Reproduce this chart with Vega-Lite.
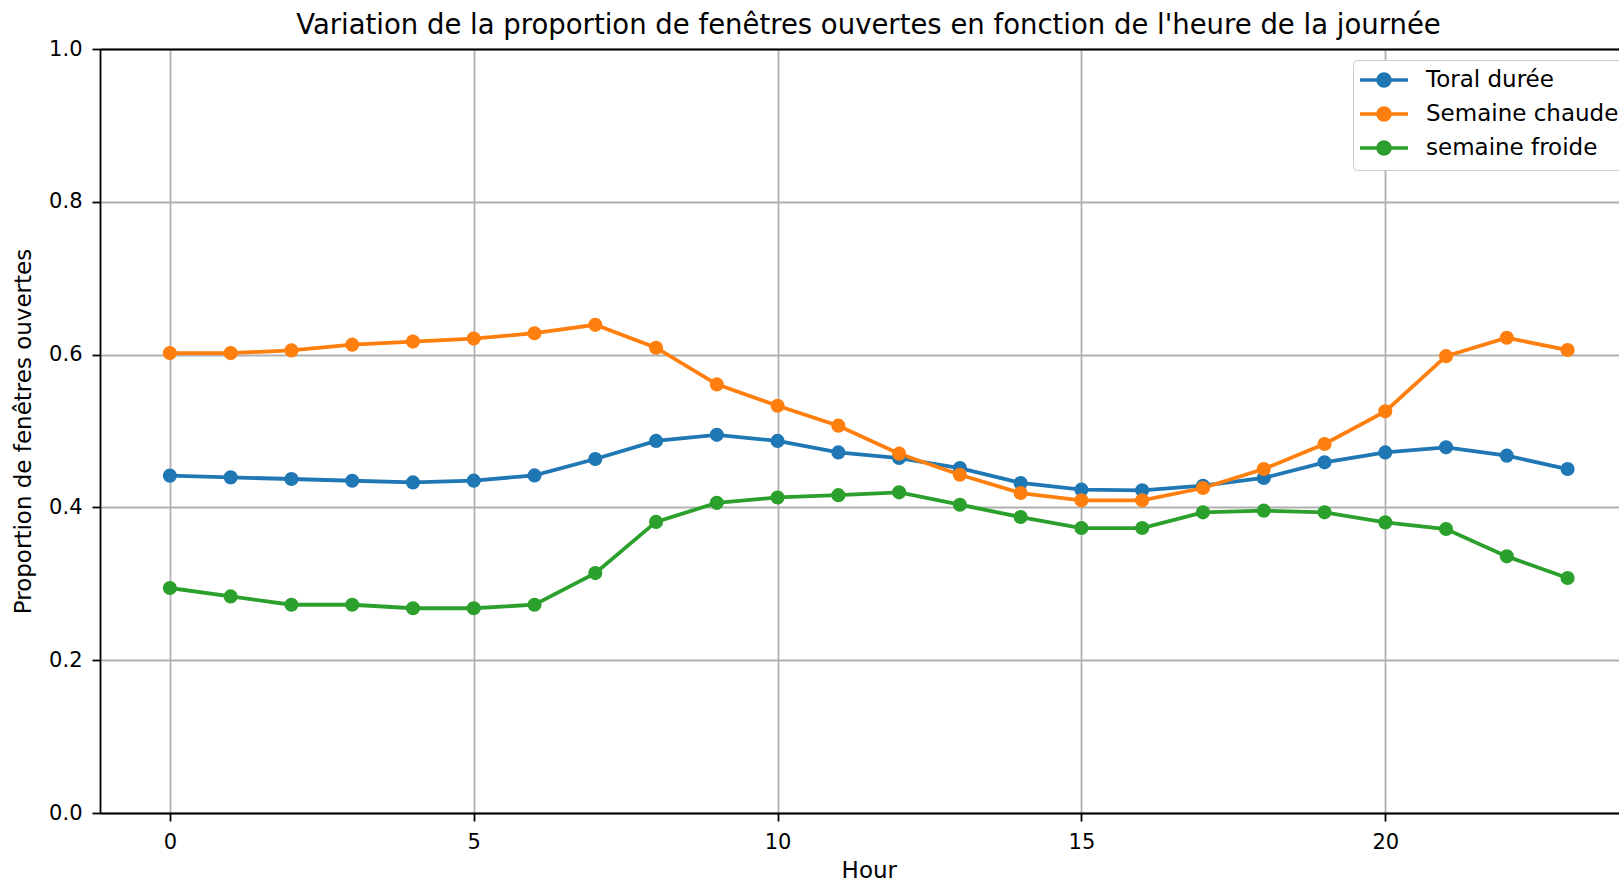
{
  "$schema": "https://vega.github.io/schema/vega-lite/v6.json",
  "autosize": {"type": "none"},
  "padding": {"left": 100, "top": 49, "right": 0, "bottom": 70},
  "width": 1519,
  "height": 764,
  "background": "white",
  "title": {
    "text": "Variation de la proportion de fenêtres ouvertes en fonction de l'heure de la journée",
    "font": "DejaVu Sans",
    "fontSize": 27.5,
    "fontWeight": "normal",
    "color": "black",
    "anchor": "middle",
    "baseline": "alphabetic",
    "offset": 14,
    "dx": 9,
    "dy": 37
  },
  "data": {
    "values": [
      {"hour": 0, "serie": "Toral durée", "p": 0.4415},
      {"hour": 1, "serie": "Toral durée", "p": 0.4393},
      {"hour": 2, "serie": "Toral durée", "p": 0.4372},
      {"hour": 3, "serie": "Toral durée", "p": 0.4349},
      {"hour": 4, "serie": "Toral durée", "p": 0.4327},
      {"hour": 5, "serie": "Toral durée", "p": 0.435},
      {"hour": 6, "serie": "Toral durée", "p": 0.4419},
      {"hour": 7, "serie": "Toral durée", "p": 0.4633},
      {"hour": 8, "serie": "Toral durée", "p": 0.487},
      {"hour": 9, "serie": "Toral durée", "p": 0.495},
      {"hour": 10, "serie": "Toral durée", "p": 0.487},
      {"hour": 11, "serie": "Toral durée", "p": 0.472},
      {"hour": 12, "serie": "Toral durée", "p": 0.4646},
      {"hour": 13, "serie": "Toral durée", "p": 0.4515},
      {"hour": 14, "serie": "Toral durée", "p": 0.432},
      {"hour": 15, "serie": "Toral durée", "p": 0.4232},
      {"hour": 16, "serie": "Toral durée", "p": 0.4223},
      {"hour": 17, "serie": "Toral durée", "p": 0.4284},
      {"hour": 18, "serie": "Toral durée", "p": 0.4385},
      {"hour": 19, "serie": "Toral durée", "p": 0.459},
      {"hour": 20, "serie": "Toral durée", "p": 0.472},
      {"hour": 21, "serie": "Toral durée", "p": 0.4786},
      {"hour": 22, "serie": "Toral durée", "p": 0.4677},
      {"hour": 23, "serie": "Toral durée", "p": 0.4502},
      {"hour": 0, "serie": "Semaine chaude", "p": 0.602},
      {"hour": 1, "serie": "Semaine chaude", "p": 0.602},
      {"hour": 2, "serie": "Semaine chaude", "p": 0.6055},
      {"hour": 3, "serie": "Semaine chaude", "p": 0.613},
      {"hour": 4, "serie": "Semaine chaude", "p": 0.617},
      {"hour": 5, "serie": "Semaine chaude", "p": 0.621},
      {"hour": 6, "serie": "Semaine chaude", "p": 0.628},
      {"hour": 7, "serie": "Semaine chaude", "p": 0.639},
      {"hour": 8, "serie": "Semaine chaude", "p": 0.609},
      {"hour": 9, "serie": "Semaine chaude", "p": 0.561},
      {"hour": 10, "serie": "Semaine chaude", "p": 0.533},
      {"hour": 11, "serie": "Semaine chaude", "p": 0.507},
      {"hour": 12, "serie": "Semaine chaude", "p": 0.4703},
      {"hour": 13, "serie": "Semaine chaude", "p": 0.4428},
      {"hour": 14, "serie": "Semaine chaude", "p": 0.4188},
      {"hour": 15, "serie": "Semaine chaude", "p": 0.4092},
      {"hour": 16, "serie": "Semaine chaude", "p": 0.4092},
      {"hour": 17, "serie": "Semaine chaude", "p": 0.4254},
      {"hour": 18, "serie": "Semaine chaude", "p": 0.4502},
      {"hour": 19, "serie": "Semaine chaude", "p": 0.483},
      {"hour": 20, "serie": "Semaine chaude", "p": 0.5257},
      {"hour": 21, "serie": "Semaine chaude", "p": 0.598},
      {"hour": 22, "serie": "Semaine chaude", "p": 0.622},
      {"hour": 23, "serie": "Semaine chaude", "p": 0.606},
      {"hour": 0, "serie": "semaine froide", "p": 0.2945},
      {"hour": 1, "serie": "semaine froide", "p": 0.2835},
      {"hour": 2, "serie": "semaine froide", "p": 0.2726},
      {"hour": 3, "serie": "semaine froide", "p": 0.2726},
      {"hour": 4, "serie": "semaine froide", "p": 0.268},
      {"hour": 5, "serie": "semaine froide", "p": 0.268},
      {"hour": 6, "serie": "semaine froide", "p": 0.2726},
      {"hour": 7, "serie": "semaine froide", "p": 0.314},
      {"hour": 8, "serie": "semaine froide", "p": 0.381},
      {"hour": 9, "serie": "semaine froide", "p": 0.406},
      {"hour": 10, "serie": "semaine froide", "p": 0.413},
      {"hour": 11, "serie": "semaine froide", "p": 0.416},
      {"hour": 12, "serie": "semaine froide", "p": 0.4197},
      {"hour": 13, "serie": "semaine froide", "p": 0.4035},
      {"hour": 14, "serie": "semaine froide", "p": 0.3874},
      {"hour": 15, "serie": "semaine froide", "p": 0.373},
      {"hour": 16, "serie": "semaine froide", "p": 0.373},
      {"hour": 17, "serie": "semaine froide", "p": 0.3935},
      {"hour": 18, "serie": "semaine froide", "p": 0.3957},
      {"hour": 19, "serie": "semaine froide", "p": 0.3935},
      {"hour": 20, "serie": "semaine froide", "p": 0.3804},
      {"hour": 21, "serie": "semaine froide", "p": 0.3717},
      {"hour": 22, "serie": "semaine froide", "p": 0.3359},
      {"hour": 23, "serie": "semaine froide", "p": 0.3076}
    ]
  },
  "encoding": {
    "y": {
      "field": "p",
      "type": "quantitative",
      "scale": {"domain": [0, 1], "nice": false, "zero": false},
      "axis": {
        "values": [0, 0.2, 0.4, 0.6, 0.8, 1.0],
        "format": ".1f",
        "title": "Proportion de fenêtres ouvertes",
        "titleAngle": -90,
        "titleX": -70,
        "titleY": 382,
        "titleAlign": "center",
        "titleBaseline": "alphabetic",
        "labelPadding": 10,
        "grid": true
      }
    },
    "color": {
      "field": "serie",
      "type": "nominal",
      "sort": ["Toral durée", "Semaine chaude", "semaine froide"],
      "scale": {
        "domain": ["Toral durée", "Semaine chaude", "semaine froide"],
        "range": ["#1f77b4", "#ff7f0e", "#2ca02c"]
      },
      "legend": {
        "title": null,
        "orient": "none",
        "legendX": 1253,
        "legendY": 11,
        "padding": 8,
        "fillColor": "white",
        "strokeColor": "#cccccc",
        "cornerRadius": 4,
        "symbolType": "M-2.4,0L2.4,0M-0.6,0A0.6,0.6,0,1,1,0.6,0A0.6,0.6,0,1,1,-0.6,0Z",
        "symbolSize": 400,
        "symbolStrokeWidth": 3.6,
        "symbolOffset": 11,
        "labelOffset": 30,
        "rowPadding": 6,
        "labelFont": "DejaVu Sans",
        "labelFontSize": 23,
        "labelColor": "black",
        "labelLimit": 400,
        "encode": {
          "symbols": {
            "update": {
              "fill": {"scale": "color", "field": "value"},
              "stroke": {"scale": "color", "field": "value"},
              "strokeWidth": {"value": 3.6},
              "opacity": {"value": 1},
              "fillOpacity": {"value": 1}
            }
          }
        }
      }
    }
  },
  "layer": [
    {
      "mark": {"type": "line", "strokeWidth": 3.8},
      "encoding": {
        "x": {
          "field": "hour",
          "type": "quantitative",
          "scale": {"domain": [-1.15, 23.846], "nice": false, "zero": false},
          "axis": {
            "orient": "bottom",
            "values": [0, 5, 10, 15, 20],
            "format": "d",
            "title": "Hour",
            "titleX": 768.8,
            "titleY": 64,
            "titleAlign": "center",
            "titleBaseline": "alphabetic",
            "labelPadding": 10,
            "grid": true
          }
        }
      }
    },
    {
      "mark": {"type": "point", "filled": true, "size": 200, "opacity": 1},
      "encoding": {
        "x": {
          "field": "hour",
          "type": "quantitative",
          "axis": {
            "orient": "top",
            "labels": false,
            "ticks": false,
            "grid": false,
            "domain": true,
            "title": null
          }
        }
      }
    }
  ],
  "resolve": {"axis": {"x": "independent"}},
  "config": {
    "view": {"stroke": null},
    "axis": {
      "domainColor": "black",
      "domainWidth": 1.8,
      "tickColor": "black",
      "tickWidth": 1.8,
      "tickSize": 8,
      "labelColor": "black",
      "labelFont": "DejaVu Sans",
      "labelFontSize": 21,
      "titleFont": "DejaVu Sans",
      "titleFontSize": 23,
      "titleFontWeight": "normal",
      "titleColor": "black",
      "gridColor": "#b0b0b0",
      "gridWidth": 1.8,
      "gridOpacity": 1
    }
  }
}
